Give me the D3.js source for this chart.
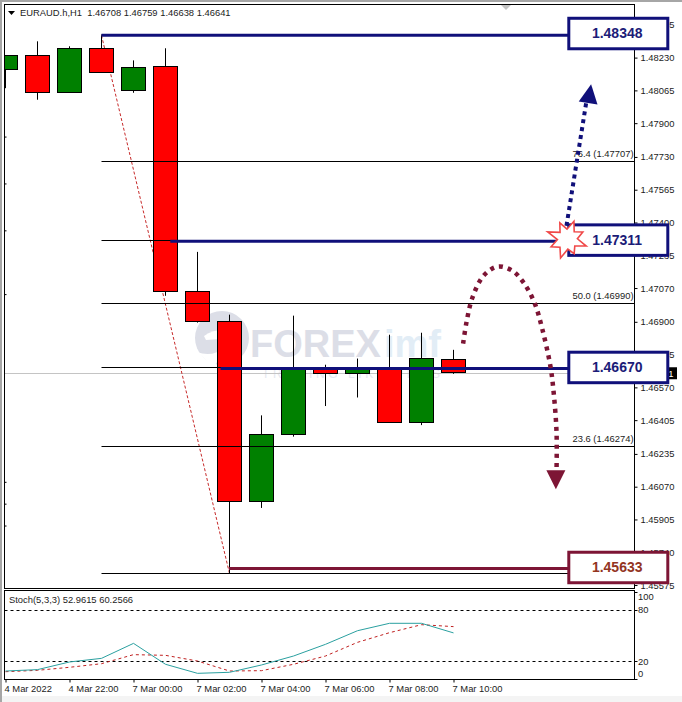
<!DOCTYPE html>
<html>
<head>
<meta charset="utf-8">
<script src="https://cdn.jsdelivr.net/npm/d3@7/dist/d3.min.js"></script>
<style>
  html, body { margin: 0; padding: 0; background: #fff; }
  svg { display: block; font-family: "Liberation Sans", Arial, sans-serif; }
  .tick text { fill: #1c1c1c; font-size: 9.4px; }
  text { fill: #1c1c1c; font-size: 9.4px; }
</style>
</head>
<body>
<svg width="682" height="702"></svg>
<script>
// Candles, left to right, one hour apart
const opens = [1.48169, 1.48240, 1.48054, 1.48275, 1.48064, 1.48185, 1.47054, 1.46903, 1.45995, 1.46332, 1.46665, 1.46642, 1.46665, 1.46393, 1.46708];
const highs = [1.48240, 1.48312, 1.48287, 1.48342, 1.48216, 1.48277, 1.47252, 1.46936, 1.46429, 1.46931, 1.46684, 1.46715, 1.46835, 1.46845, 1.46759];
const lows = [1.48076, 1.48018, 1.48054, 1.48153, 1.48053, 1.47031, 1.46896, 1.45633, 1.45963, 1.46322, 1.46476, 1.46519, 1.46393, 1.46380, 1.46638];
const closes = [1.48240, 1.48054, 1.48275, 1.48155, 1.48180, 1.47054, 1.46903, 1.45995, 1.46332, 1.46665, 1.46642, 1.46665, 1.46393, 1.46715, 1.46641];

// Stochastic(5,3,3)
const stochMain = [8.7, 10.3, 19.2, 23.4, 40.8, 16.5, 6, 7.2, 15.7, 26.1, 39.7, 55.5, 64.1, 64.1, 52.96];
const stochSignal = [7.9, 9.5, 13, 17.2, 27.7, 26.9, 20.3, 8.7, 9.1, 16.5, 26.1, 42, 53.2, 62.5, 60.26];

// Axis labels
const priceTicks = [1.48395, 1.48230, 1.48065, 1.47900, 1.47730, 1.47565, 1.47400, 1.47235, 1.47070, 1.46900, 1.46735, 1.46570, 1.46405, 1.46235, 1.46070, 1.45905, 1.45740, 1.45575];
const timeTicks = [0, 2, 4, 6, 8, 10, 12, 14];
const timeLabels = ['4 Mar 2022', '4 Mar 22:00', '7 Mar 00:00', '7 Mar 02:00', '7 Mar 04:00', '7 Mar 06:00', '7 Mar 08:00', '7 Mar 10:00'];
const leftMarks = [1.47830, 1.47594, 1.47358, 1.47037, 1.46092, 1.45982, 1.45872];

// Fibonacci retracement between the high and the low
const fibLevels = [100, 76.4, 61.8, 50, 38.2, 23.6, 0];
const fibPrices = [1.48348, 1.47707, 1.47311, 1.46990, 1.46670, 1.46274, 1.45633];
const fibLabels = ['', '76.4 (1.47707)', '', '50.0 (1.46990)', '', '23.6 (1.46274)', ''];
const fibStart = 3;
const trendBars = [3, 7];
const trendPrices = [1.48342, 1.45633];

// Hand drawn levels with their boxes
const boxNames = ['1.48348', '1.47311', '1.46670', '1.45633'];
const boxLinePrices = [1.48342, 1.47306, 1.46665, 1.45658];
const boxPrices = [1.48428, 1.47388, 1.46747, 1.45740];
const boxStartBars = [3, 5.15, 6.72, 6.98];
const boxColors = ['#10107a', '#10107a', '#10107a', '#7d1535'];
const boxTextColors = ['#1c1c78', '#1c1c78', '#1c1c78', '#93351f'];

// Forecast arrows
const upBars = [17.53, 18.16];
const upPrices = [1.47383, 1.48016];
const upTip = [18.3, 1.48096];
const arcBars = [14.30, 14.41, 14.59, 14.94, 15.38, 15.84, 16.19, 16.53, 16.78, 17.03, 17.13, 17.22, 17.22];
const arcPrices = [1.46790, 1.46901, 1.47021, 1.47132, 1.47178, 1.47157, 1.47097, 1.46996, 1.46860, 1.46675, 1.46544, 1.46343, 1.46157];
const downTip = [17.2, 1.46057];

const svg = d3.select('svg');
const width = +svg.attr('width');
const height = +svg.attr('height');
const navy = '#10107a';
const maroon = '#7d1535';

// chart panes
const plot = { left: 4.5, right: 634.5, top: 4.5, bottom: 588.5 };
const stochPane = { top: 590.5, bottom: 679.5 };

const xScale = d3.scaleLinear().domain([0, 1]).range([5.5, 37.5]);
const yScale = d3.scaleLinear().domain([1.47707, 1.45633]).range([161.5, 573.5]);
const stochY = d3.scaleLinear().domain([0, 100]).range([678.5, 592.4]);
const bodyWidth = 24;

// window background and frame
svg.append('rect').attr('width', width).attr('height', height).attr('fill', '#f4f4f4');
svg.append('rect').attr('x', 2).attr('y', 2).attr('width', width - 2).attr('height', 694).attr('fill', '#fff');
svg.append('rect').attr('width', 2).attr('height', height).attr('fill', '#a6a6a6');
svg.append('rect').attr('width', width).attr('height', 2).attr('fill', '#a6a6a6');

svg.append('defs').append('clipPath').attr('id', 'plot-clip')
  .append('rect')
  .attr('x', plot.left).attr('y', plot.top)
  .attr('width', plot.right - plot.left).attr('height', plot.bottom - plot.top);

// watermark
const mark = svg.append('g');
mark.append('circle').attr('cx', 222).attr('cy', 338).attr('r', 27).attr('fill', '#dcdee7');
mark.append('path').attr('d', 'M204 336 Q216 327 236 331 L237 338 L206 340 Z').attr('fill', '#fff');
mark.append('path').attr('d', 'M197 352 Q212 358 226 347 L214 367 Z').attr('fill', '#fff');
mark.append('text').text('FOREX').attr('x', 250).attr('y', 357)
  .style('font-size', '38px').style('font-weight', 'bold').style('fill', '#dcdee7');
mark.append('text').text('imf').attr('x', 384).attr('y', 357)
  .style('font-size', '38px').style('font-weight', 'bold').style('fill', '#e2edf6');
mark.append('text').text('TRADING LIKE PROS').attr('x', 262).attr('y', 378)
  .attr('textLength', 178).attr('lengthAdjust', 'spacing')
  .style('font-size', '12px').style('fill', '#e6e8f0');

// current price line
svg.append('line')
  .attr('x1', plot.left).attr('x2', plot.right)
  .attr('y1', Math.floor(yScale(closes[14])) + 0.5).attr('y2', Math.floor(yScale(closes[14])) + 0.5)
  .attr('stroke', '#c4c4c4');

// left edge marks
svg.selectAll('.left-mark').data(leftMarks).enter().append('line')
  .attr('class', 'left-mark')
  .attr('x1', plot.left).attr('x2', plot.left + 2)
  .attr('y1', d => yScale(d)).attr('y2', d => yScale(d))
  .attr('stroke', '#000');

const chart = svg.append('g').attr('clip-path', 'url(#plot-clip)');

// dashed line between the fib anchors, behind the candles
chart.append('path')
  .attr('d', d3.line().x(d => xScale(d)).y((d, i) => yScale(trendPrices[i]))(trendBars))
  .attr('fill', 'none').attr('stroke', '#c62a2a').attr('stroke-width', 1).attr('stroke-dasharray', '3,2');

// candles
const candles = chart.selectAll('.candle').data(opens).enter().append('g').attr('class', 'candle');
candles.append('line')
  .attr('x1', (d, i) => xScale(i)).attr('x2', (d, i) => xScale(i))
  .attr('y1', (d, i) => yScale(highs[i])).attr('y2', (d, i) => yScale(lows[i]))
  .attr('stroke', '#000');
candles.append('rect')
  .attr('x', (d, i) => xScale(i) - bodyWidth / 2)
  .attr('width', bodyWidth)
  .attr('y', (d, i) => Math.floor(yScale(Math.max(d, closes[i]))) + 0.5)
  .attr('height', (d, i) => Math.round(Math.abs(yScale(d) - yScale(closes[i]))))
  .attr('fill', (d, i) => closes[i] >= d ? '#008000' : '#ff0000')
  .attr('stroke', '#000');

// fib lines on top of the candles
chart.selectAll('.fib').data(fibPrices).enter().append('line')
  .attr('class', 'fib')
  .attr('x1', xScale(fibStart)).attr('x2', plot.right)
  .attr('y1', d => Math.floor(yScale(d)) + 0.5).attr('y2', d => Math.floor(yScale(d)) + 0.5)
  .attr('stroke', '#000');
svg.selectAll('.fib-label').data(fibLabels).enter().append('text')
  .attr('class', 'fib-label')
  .attr('x', plot.right - 1)
  .attr('y', (d, i) => Math.floor(yScale(fibPrices[i])) - 4)
  .attr('text-anchor', 'end')
  .text(d => d);

// price axis
const yAxis = d3.axisRight(yScale)
  .tickValues(priceTicks)
  .tickFormat(d3.format('.5f'))
  .tickSize(3)
  .tickPadding(3);
const yAxisG = svg.append('g').attr('transform', `translate(${plot.right},0)`).call(yAxis);
yAxisG.select('.domain').remove();
yAxisG.selectAll('.tick line').attr('stroke', '#000');

// current price tag
const tagY = yScale(closes[14]);
svg.append('rect').attr('x', 637).attr('y', tagY - 6).attr('width', 40).attr('height', 12).attr('fill', '#000');
svg.append('text').text(closes[14].toFixed(5)).attr('x', 639.5).attr('y', tagY + 3.5).style('fill', '#fff');

// pane frames
svg.append('rect')
  .attr('x', plot.left).attr('y', plot.top)
  .attr('width', plot.right - plot.left).attr('height', plot.bottom - plot.top)
  .attr('fill', 'none').attr('stroke', '#000');
svg.append('rect')
  .attr('x', plot.left).attr('y', stochPane.top)
  .attr('width', plot.right - plot.left).attr('height', stochPane.bottom - stochPane.top)
  .attr('fill', 'none').attr('stroke', '#000');

// title
svg.append('path').attr('d', 'M8 11 L15 11 L11.5 15 Z').attr('fill', '#000');
svg.append('text')
  .attr('x', 20).attr('y', 16)
  .attr('xml:space', 'preserve')
  .style('white-space', 'pre')
  .text('EURAUD.h,H1  1.46708 1.46759 1.46638 1.46641');
svg.append('path').attr('d', 'M501 5 L511 5 L506 10 Z').attr('fill', '#c4c4c4');

// level lines and boxes
svg.selectAll('.level').data(boxLinePrices).enter().append('line')
  .attr('class', 'level')
  .attr('x1', (d, i) => xScale(boxStartBars[i]))
  .attr('x2', 568)
  .attr('y1', d => yScale(d)).attr('y2', d => yScale(d))
  .attr('stroke', (d, i) => boxColors[i]).attr('stroke-width', 3);

const boxes = svg.selectAll('.box').data(boxNames).enter().append('g').attr('class', 'box');
boxes.append('rect')
  .attr('x', 568.8).attr('width', 99)
  .attr('y', (d, i) => yScale(boxPrices[i]))
  .attr('height', 30.5)
  .attr('fill', '#fff')
  .attr('stroke', (d, i) => boxColors[i]).attr('stroke-width', 3);
boxes.append('text')
  .attr('x', 617.2)
  .attr('y', (d, i) => yScale(boxPrices[i]) + 20)
  .attr('text-anchor', 'middle')
  .style('font-size', '14px').style('font-weight', 'bold')
  .style('fill', (d, i) => boxTextColors[i])
  .text(d => d);

// up arrow
const arrows = svg.append('g');
arrows.append('line')
  .attr('x1', xScale(upBars[0])).attr('y1', yScale(upPrices[0]))
  .attr('x2', xScale(upBars[1])).attr('y2', yScale(upPrices[1]))
  .attr('stroke', navy).attr('stroke-width', 4).attr('stroke-dasharray', '4,4');

// triangle head from the tip, pointing along an angle
const arrowHead = (tipX, tipY, angle, color) => {
  arrows.append('path')
    .attr('d', 'M0 0 L-9.5 19 L9.5 19 Z')
    .attr('transform', `translate(${tipX},${tipY}) rotate(${angle})`)
    .attr('fill', color);
};
arrowHead(xScale(upTip[0]), yScale(upTip[1]), 9, navy);

// burst over the box corner
const burstRadii = [19, 10, 17, 10, 20, 10, 16, 10, 20, 11, 18, 10, 21, 10, 18, 10];
const burst = d3.lineRadial()
  .angle((d, i) => i / burstRadii.length * 2 * Math.PI + 0.35)
  .radius(d => d)
  .curve(d3.curveLinearClosed);
arrows.append('path')
  .attr('d', burst(burstRadii))
  .attr('transform', `translate(${xScale(17.56)},${yScale(1.47316)})`)
  .attr('fill', '#fff').attr('stroke', '#f04848').attr('stroke-width', 1.6);

// down arc
arrows.append('path')
  .attr('d', d3.line().x(d => xScale(d)).y((d, i) => yScale(arcPrices[i])).curve(d3.curveCatmullRom)(arcBars))
  .attr('fill', 'none').attr('stroke', maroon).attr('stroke-width', 4.5).attr('stroke-dasharray', '4,5');
arrowHead(xScale(downTip[0]), yScale(downTip[1]), 180, maroon);

// stochastic pane
svg.append('text').text('Stoch(5,3,3) 52.9615 60.2566').attr('x', 9).attr('y', 603);
[80, 20].forEach(level => {
  svg.append('line')
    .attr('x1', plot.left).attr('x2', plot.right)
    .attr('y1', Math.round(stochY(level)) + 0.5).attr('y2', Math.round(stochY(level)) + 0.5)
    .attr('stroke', '#000').attr('stroke-dasharray', '3,3');
});
const stochLine = d3.line().x((d, i) => xScale(i)).y(d => stochY(d));
svg.append('path').attr('d', stochLine(stochSignal))
  .attr('fill', 'none').attr('stroke', '#c02020').attr('stroke-dasharray', '3,3');
svg.append('path').attr('d', stochLine(stochMain))
  .attr('fill', 'none').attr('stroke', '#2aa0a0');

// stochastic axis, 100 and 0 labels are pushed inside the pane like MT4 does
const stochLabels = [[100, 8], [80, 3.5], [20, 3.5], [0, -2]];
const stochAxis = svg.append('g');
stochLabels.forEach(([value, dy]) => {
  stochAxis.append('line')
    .attr('x1', plot.right).attr('x2', plot.right + 3)
    .attr('y1', Math.round(stochY(value)) + 0.5).attr('y2', Math.round(stochY(value)) + 0.5)
    .attr('stroke', '#000');
  stochAxis.append('text').text(value).attr('x', plot.right + 3.5).attr('y', stochY(value) + dy);
});

// time axis
const xAxis = d3.axisBottom(xScale)
  .tickValues(timeTicks)
  .tickFormat((d, i) => timeLabels[i])
  .tickSize(3)
  .tickPadding(3);
const xAxisG = svg.append('g').attr('transform', `translate(0,${stochPane.bottom})`).call(xAxis);
xAxisG.select('.domain').remove();
xAxisG.selectAll('.tick line').attr('stroke', '#000');
xAxisG.selectAll('.tick text').attr('text-anchor', 'start').attr('dx', -1.5);
</script>
</body>
</html>
